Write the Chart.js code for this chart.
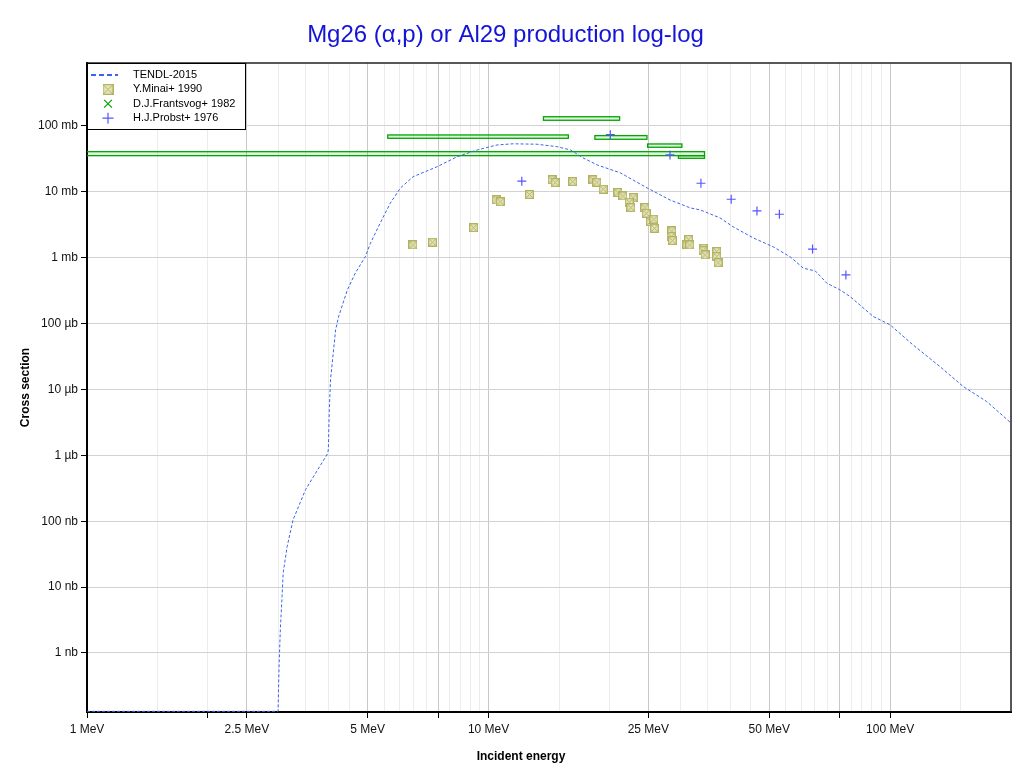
<!DOCTYPE html>
<html>
<head>
<meta charset="utf-8">
<script src="https://cdn.jsdelivr.net/npm/chart.js@4.4.0/dist/chart.umd.min.js"></script>
<style>
  html, body { margin: 0; padding: 0; background: #fff; }
  #wrap { width: 1020px; height: 773px; }
</style>
</head>
<body>
<div id="wrap"><canvas id="chart" width="1020" height="773"></canvas></div>
<script>
// energies in MeV, cross sections in mb

// TENDL-2015 evaluation
const tendlE = [1, 2.99, 3.01, 3.03, 3.06, 3.08, 3.15, 3.26, 3.5, 3.66, 3.97, 3.99, 4.01, 4.04, 4.08, 4.16, 4.23, 4.45,
  4.66, 4.93, 5.08, 5.37, 5.69, 6.03, 6.49, 7.45, 8.36, 9.37, 10.5, 11.5, 13.2, 14.8, 16.0, 17.2, 18.65, 21.3,
  24.8, 28.3, 31.8, 33.7, 37.7, 40.7, 45.6, 51.2, 56.4, 60.8, 65.1, 69.6, 75.1, 79.5, 90.8, 100, 114, 133, 152,
  174, 200];
const tendlXS = [1.3e-7, 1.3e-7, 7.1e-7, 2.25e-6, 7.1e-6, 1.65e-5, 4.1e-5, 1.05e-4, 3.0e-4, 4.7e-4, 1.05e-3, 1.21e-3,
  4.4e-3, 0.014, 0.025, 0.080, 0.126, 0.324, 0.588, 1.03, 1.66, 3.34, 6.71, 11.4, 17.0, 24.1, 34.2, 43.2, 51.5,
  53.6, 52.8, 48.5, 43.2, 32.7, 25.6, 19.4, 11.5, 7.53, 5.7, 5.31, 4.02, 2.93, 2.0, 1.46, 1.03, 0.693, 0.63, 0.41,
  0.324, 0.257, 0.128, 0.0957, 0.0475, 0.0223, 0.0111, 0.00655, 0.0031];

// Y.Minai+ 1990
const minaiE = [6.48, 7.25, 9.18, 10.45, 10.7, 12.65, 14.4, 14.65, 16.2, 18.2, 18.6, 19.3, 21.0, 21.6, 22.9, 22.4,
  22.6, 24.5, 24.7, 25.3, 25.8, 25.9, 28.6, 28.5, 28.7, 31.5, 31.2, 31.7, 34.3, 34.2, 34.6, 37.0, 37.0, 37.3];
const minaiXS = [1.56, 1.72, 2.86, 7.53, 7.07, 9.07, 15.2, 13.8, 14.3, 15.2, 14.0, 10.95, 9.73, 8.66, 8.18, 6.95,
  5.75, 5.75, 4.73, 3.53, 3.84, 2.80, 2.55, 2.09, 1.82, 1.89, 1.56, 1.56, 1.39, 1.28, 1.10, 1.24, 1.04, 0.84];

// D.J.Frantsvog+ 1982 (energy bins and cross section ranges)
const frantsELo = [13.7, 5.61, 18.4, 24.9, 0.9, 29.7];
const frantsEHi = [21.2, 15.8, 24.8, 30.3, 34.5, 34.5];
const frantsXSLo = [122, 65, 62.8, 47.5, 35.4, 32.3];
const frantsXSHi = [138, 73, 71.3, 53.3, 40.7, 35.4];

// H.J.Probst+ 1976
const probstE = [12.1, 20.1, 28.3, 33.8, 40.2, 46.6, 53.0, 64.1, 77.6];
const probstXS = [14.5, 73.8, 36.3, 13.5, 7.72, 5.13, 4.57, 1.35, 0.548];

// axes
const xGrid = [1, 1.5, 2, 2.5, 3, 3.5, 4, 4.5, 5, 5.5, 6, 6.5, 7, 7.5, 8, 8.5, 9, 9.5,
  10, 15, 20, 25, 30, 35, 40, 45, 50, 55, 60, 65, 70, 75, 80, 85, 90, 95, 100, 150, 200];
const xLabelVals = [1, 2.5, 5, 10, 25, 50, 100];
const xLabels = ['1 MeV', '2.5 MeV', '5 MeV', '10 MeV', '25 MeV', '50 MeV', '100 MeV'];
const xDark = [1, 2.5, 5, 7.5, 10, 25, 50, 75, 100];
const xTickMarks = [1, 2, 2.5, 5, 7.5, 10, 25, 50, 75, 100];
const yTickVals = [1e-6, 1e-5, 1e-4, 1e-3, 1e-2, 0.1, 1, 10, 100];
const yLabels = ['1 nb', '10 nb', '100 nb', '1 µb', '10 µb', '100 µb', '1 mb', '10 mb', '100 mb'];

const TENDL_COLOR = 'rgb(60,100,235)';
const MINAI_COLOR = 'rgb(178,178,100)';
const FRANTS_COLOR = 'rgb(0,165,0)';
const PROBST_COLOR = 'rgb(85,85,255)';

Chart.defaults.font.family = 'Arial, "Liberation Sans", sans-serif';

function boxedX(size) {
  const c = document.createElement('canvas');
  c.width = size; c.height = size;
  const g = c.getContext('2d');
  g.fillStyle = 'rgb(230,230,188)';
  g.fillRect(0, 0, size, size);
  g.strokeStyle = MINAI_COLOR;
  g.lineWidth = 1.3;
  g.strokeRect(0.65, 0.65, size - 1.3, size - 1.3);
  g.lineWidth = 1;
  g.beginPath();
  g.moveTo(1.5, 1.5); g.lineTo(size - 1.5, size - 1.5);
  g.moveTo(size - 1.5, 1.5); g.lineTo(1.5, size - 1.5);
  g.stroke();
  return c;
}
const minaiMark = boxedX(9);
const minaiLegendMark = boxedX(11);

const toPts = (xs, ys) => xs.map((v, i) => ({ x: v, y: ys[i] }));

// green boxes for Frantsvog data
const frantsBoxes = {
  id: 'frantsBoxes',
  beforeDatasetsDraw(chart) {
    const { ctx, chartArea: a, scales: { x, y } } = chart;
    ctx.save();
    ctx.beginPath();
    ctx.rect(a.left, a.top, a.right - a.left, a.bottom - a.top);
    ctx.clip();
    ctx.strokeStyle = FRANTS_COLOR;
    ctx.fillStyle = 'rgba(0,165,0,0.12)';
    ctx.lineWidth = 1.3;
    for (let i = 0; i < frantsELo.length; i++) {
      const x1 = x.getPixelForValue(frantsELo[i]);
      const x2 = x.getPixelForValue(frantsEHi[i]);
      const y1 = y.getPixelForValue(frantsXSHi[i]);
      const y2 = y.getPixelForValue(frantsXSLo[i]);
      ctx.fillRect(x1, y1, x2 - x1, y2 - y1);
      ctx.strokeRect(x1, y1, x2 - x1, y2 - y1);
    }
    ctx.restore();
  }
};

// frame, legend and x title
const decorations = {
  id: 'decorations',
  afterDatasetsDraw(chart) {
    const { ctx, chartArea: a } = chart;
    ctx.save();
    ctx.strokeStyle = '#222';
    ctx.lineWidth = 1.5;
    ctx.beginPath();
    ctx.moveTo(a.left, a.top); ctx.lineTo(a.right, a.top); ctx.lineTo(a.right, a.bottom);
    ctx.stroke();

    // legend
    const lx = a.left, ly = a.top;
    ctx.fillStyle = '#fff';
    ctx.fillRect(lx, ly, 158, 66);
    ctx.strokeStyle = '#000';
    ctx.lineWidth = 1;
    ctx.strokeRect(lx + 0.5, ly + 0.5, 158, 66);
    ctx.font = '11px Arial, "Liberation Sans", sans-serif';
    ctx.textBaseline = 'middle';
    chart.data.datasets.forEach((ds, i) => {
      const ry = ly + 12 + i * 14.4;
      const mx = lx + 21;
      if (i === 0) {
        ctx.save();
        ctx.strokeStyle = ds.borderColor;
        ctx.lineWidth = 2;
        ctx.setLineDash([5, 3]);
        ctx.beginPath(); ctx.moveTo(lx + 4, ry); ctx.lineTo(lx + 31, ry); ctx.stroke();
        ctx.restore();
      } else if (i === 1) {
        ctx.drawImage(minaiLegendMark, mx - 5.5, ry - 5.5);
      } else {
        ctx.save();
        ctx.strokeStyle = ds.borderColor;
        ctx.lineWidth = 1.2;
        Chart.helpers.drawPoint(ctx, { pointStyle: ds.pointStyle, radius: 5.5, rotation: 0, borderWidth: 1.2 }, mx, ry);
        ctx.restore();
      }
      ctx.fillStyle = '#000';
      ctx.fillText(ds.label, lx + 46, ry);
    });

    ctx.font = 'bold 12px Arial, "Liberation Sans", sans-serif';
    ctx.textAlign = 'center';
    ctx.fillText('Incident energy', 521, 757);
    ctx.restore();
  }
};

new Chart(document.getElementById('chart'), {
  type: 'scatter',
  data: {
    datasets: [
      {
        label: 'TENDL-2015',
        data: toPts(tendlE, tendlXS),
        showLine: true,
        borderColor: TENDL_COLOR,
        borderWidth: 1,
        borderDash: [3, 2],
        pointRadius: 0,
        fill: false
      },
      {
        label: 'Y.Minai+ 1990',
        data: toPts(minaiE, minaiXS),
        pointStyle: minaiMark,
        pointRadius: 4
      },
      {
        label: 'D.J.Frantsvog+ 1982',
        data: frantsELo.map((e, i) => ({ x: Math.sqrt(e * frantsEHi[i]), y: Math.sqrt(frantsXSLo[i] * frantsXSHi[i]) })),
        pointStyle: 'crossRot',
        borderColor: FRANTS_COLOR,
        pointRadius: 0
      },
      {
        label: 'H.J.Probst+ 1976',
        data: toPts(probstE, probstXS),
        pointStyle: 'cross',
        borderColor: PROBST_COLOR,
        pointBorderWidth: 1.2,
        pointRadius: 4.5
      }
    ]
  },
  options: {
    responsive: false,
    devicePixelRatio: 1,
    animation: false,
    events: [],
    layout: { padding: { left: 0, right: 9, top: 0, bottom: 0 } },
    plugins: {
      legend: { display: false },
      tooltip: { enabled: false },
      title: {
        display: true,
        text: 'Mg26 (α,p) or Al29 production log-log',
        color: 'rgb(20,20,215)',
        font: { size: 24, weight: 'normal' },
        padding: { top: 21, bottom: 13.2 }
      }
    },
    scales: {
      x: {
        type: 'logarithmic',
        position: 'bottom',
        min: 1,
        max: 200,
        bounds: 'data',
        afterBuildTicks: (scale) => { scale.ticks = xGrid.map(v => ({ value: v })); },
        afterFit: (scale) => { scale.height = 61; },
        ticks: {
          autoSkip: false,
          maxRotation: 0,
          padding: 4,
          color: '#111',
          font: { size: 12 },
          callback: (v) => { const k = xLabelVals.indexOf(v); return k >= 0 ? xLabels[k] : ''; }
        },
        grid: {
          color: (c) => xDark.includes(c.tick.value) ? 'rgb(200,200,200)' : 'rgb(236,236,236)',
          tickColor: (c) => xTickMarks.includes(c.tick.value) ? '#000' : 'rgba(0,0,0,0)',
          tickLength: 6,
          lineWidth: 1
        },
        border: { color: '#000', width: 2 }
      },
      y: {
        type: 'logarithmic',
        position: 'left',
        min: 1.27e-7,
        max: 903,
        bounds: 'data',
        afterBuildTicks: (scale) => { scale.ticks = yTickVals.map(v => ({ value: v })); },
        afterFit: (scale) => { scale.width = 87; },
        ticks: {
          autoSkip: false,
          padding: 3,
          color: '#111',
          font: { size: 12 },
          callback: (v) => { const k = yTickVals.indexOf(v); return k >= 0 ? yLabels[k] : ''; }
        },
        grid: {
          color: 'rgb(210,210,210)',
          tickColor: '#000',
          tickLength: 6,
          lineWidth: 1
        },
        border: { color: '#000', width: 2 },
        title: {
          display: true,
          text: 'Cross section',
          color: '#000',
          font: { size: 12, weight: 'bold' },
          padding: { top: 18, bottom: 0 }
        }
      }
    }
  },
  plugins: [frantsBoxes, decorations]
});
</script>
</body>
</html>
